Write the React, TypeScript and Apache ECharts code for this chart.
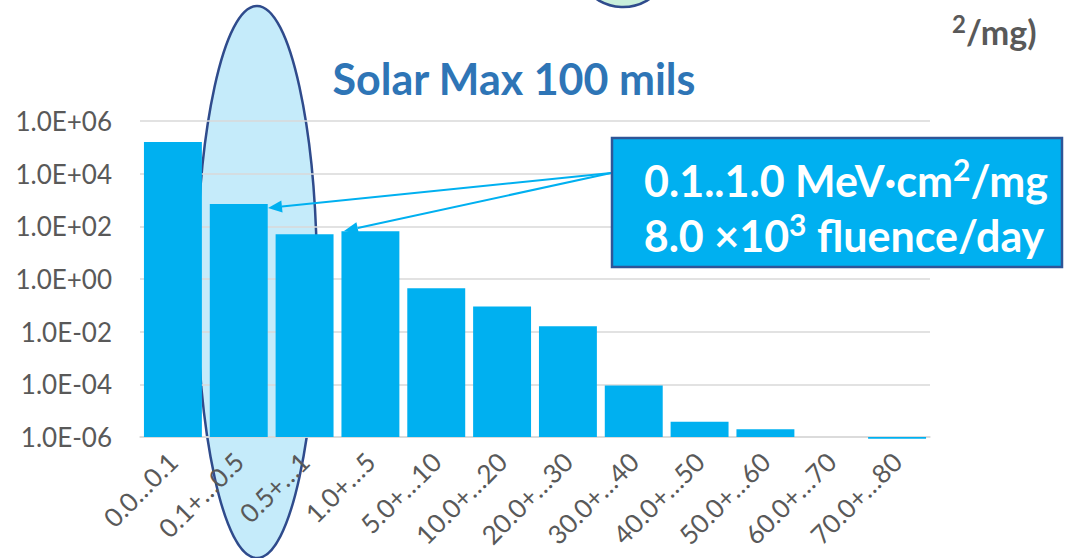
import React, { useEffect, useRef } from "react";
import * as echarts from "echarts";

// LET ranges (MeV·cm²/mg)
const categories = [
  "0.0…0.1",
  "0.1+…0.5",
  "0.5+…1",
  "1.0+…5",
  "5.0+…10",
  "10.0+…20",
  "20.0+…30",
  "30.0+…40",
  "40.0+…50",
  "50.0+…60",
  "60.0+…70",
  "70.0+…80",
];

// fluence per range
const fluence: (number | null)[] = [
  1.6e5, 7.1e2, 50, 65, 0.45, 0.09, 0.016, 9.0e-5, 3.8e-6, 1.95e-6, null, 8.6e-7,
];

const yTickMin = 1e-6;
const yTickMax = 1e6;

const titleText = "Solar Max 100 mils";
// rich-text strings: {s|…} marks a superscript
const unitText = "{s|2}{a|/mg)}";
const calloutLines = ["{a|0.1..1.0 MeV·cm}{s|2}{a|/mg}", "{a|8.0 ×10}{s|3}{a| fluence/day}"];

const FONT = "Lato, 'Noto Sans', sans-serif";

function sciLabel(v: number): string {
  const e = Math.round(Math.log10(v));
  return "1.0E" + (e < 0 ? "-" : "+") + String(Math.abs(e)).padStart(2, "0");
}

function arrowHead(x1: number, y1: number, x2: number, y2: number, len: number, half: number) {
  const dx = x2 - x1;
  const dy = y2 - y1;
  const d = Math.hypot(dx, dy);
  const ux = dx / d;
  const uy = dy / d;
  const bx = x2 - ux * len;
  const by = y2 - uy * len;
  return [
    [x2, y2],
    [bx - uy * half, by + ux * half],
    [bx + uy * half, by - ux * half],
  ];
}

function supRich(color: string, size: number, supSize: number) {
  return {
    a: {
      fill: color,
      fontSize: size,
      fontWeight: "bold",
      fontFamily: FONT,
      lineHeight: size * 1.1,
      verticalAlign: "bottom",
    },
    s: {
      fill: color,
      fontSize: supSize,
      fontWeight: "bold",
      fontFamily: FONT,
      lineHeight: supSize,
      verticalAlign: "top",
    },
  };
}

export default function App() {
  const ref = useRef<HTMLDivElement>(null);

  useEffect(() => {
    if (!ref.current) return;
    const chart = echarts.init(ref.current, undefined, { renderer: "svg" });

    const arrowColor = "#00B0F0";
    const origin = [611, 173];
    const tips = [
      [268, 208],
      [344, 231],
    ];
    const arrows: any[] = [];
    tips.forEach(([tx, ty]) => {
      const head = arrowHead(origin[0], origin[1], tx, ty, 14, 6);
      const back = [
        (head[1][0] + head[2][0]) / 2,
        (head[1][1] + head[2][1]) / 2,
      ];
      arrows.push({
        type: "line",
        z: 90,
        shape: { x1: origin[0], y1: origin[1], x2: back[0], y2: back[1] },
        style: { stroke: arrowColor, lineWidth: 2 },
      });
      arrows.push({
        type: "polygon",
        z: 90,
        shape: { points: head },
        style: { fill: arrowColor },
      });
    });

    chart.setOption({
      animation: false,
      backgroundColor: "#ffffff",
      grid: {
        left: 140,
        right: 136,
        top: 121,
        bottom: 121,
        containLabel: false,
        outerBoundsMode: "none",
      },
      xAxis: {
        type: "category",
        data: categories,
        axisLine: { show: true, lineStyle: { color: "#D9D9D9", width: 1.5 } },
        axisTick: { show: false },
        axisLabel: {
          rotate: 45,
          interval: 0,
          margin: 20,
          color: "#595959",
          fontSize: 26,
          fontFamily: FONT,
        },
      },
      yAxis: {
        type: "log",
        logBase: 100,
        min: yTickMin,
        max: yTickMax,
        startValue: yTickMin,
        splitNumber: 6,
        axisLine: { show: false },
        axisTick: { show: false },
        splitLine: { show: true, lineStyle: { color: "#D9D9D9", width: 1.5 } },
        axisLabel: {
          color: "#595959",
          fontSize: 26,
          fontFamily: FONT,
          margin: 28,
          formatter: (v: number) => sciLabel(v),
        },
      },
      series: [
        {
          type: "bar",
          data: fluence,
          barCategoryGap: "12%",
          clip: false,
          itemStyle: { color: "#00B0F0" },
        },
      ],
      graphic: [
        {
          type: "ellipse",
          z: -1,
          shape: { cx: 257, cy: 282, rx: 60, ry: 276 },
          style: { fill: "#C5EBFA", stroke: "#2F4B8C", lineWidth: 2.5 },
        },
        {
          type: "circle",
          z: -1,
          shape: { cx: 623, cy: -41, r: 48 },
          style: { fill: "#C9EFDB", stroke: "#2F4B8C", lineWidth: 2.5 },
        },
        {
          type: "text",
          z: 50,
          x: 514,
          y: 78,
          style: {
            text: titleText,
            fill: "#2E75B6",
            font: `bold 43px ${FONT}`,
            textAlign: "center",
            textVerticalAlign: "middle",
          },
        },
        {
          type: "text",
          z: 50,
          x: 952,
          y: 30,
          style: {
            text: unitText,
            rich: supRich("#595959", 34, 24),
            textAlign: "left",
            textVerticalAlign: "middle",
          },
        },
        ...arrows,
        {
          type: "rect",
          z: 95,
          shape: { x: 612, y: 138, width: 450, height: 129 },
          style: { fill: "#00B0F0", stroke: "#2F5597", lineWidth: 2.5 },
        },
        {
          type: "text",
          z: 96,
          x: 846,
          y: 178,
          style: {
            text: calloutLines[0],
            rich: supRich("#ffffff", 43, 30),
            textAlign: "center",
            textVerticalAlign: "middle",
          },
        },
        {
          type: "text",
          z: 96,
          x: 844,
          y: 233,
          style: {
            text: calloutLines[1],
            rich: supRich("#ffffff", 43, 30),
            textAlign: "center",
            textVerticalAlign: "middle",
          },
        },
      ],
    });

    return () => chart.dispose();
  }, []);

  return (
    <div
      ref={ref}
      style={{ position: "absolute", left: 0, top: 0, width: 1066, height: 558 }}
    />
  );
}
